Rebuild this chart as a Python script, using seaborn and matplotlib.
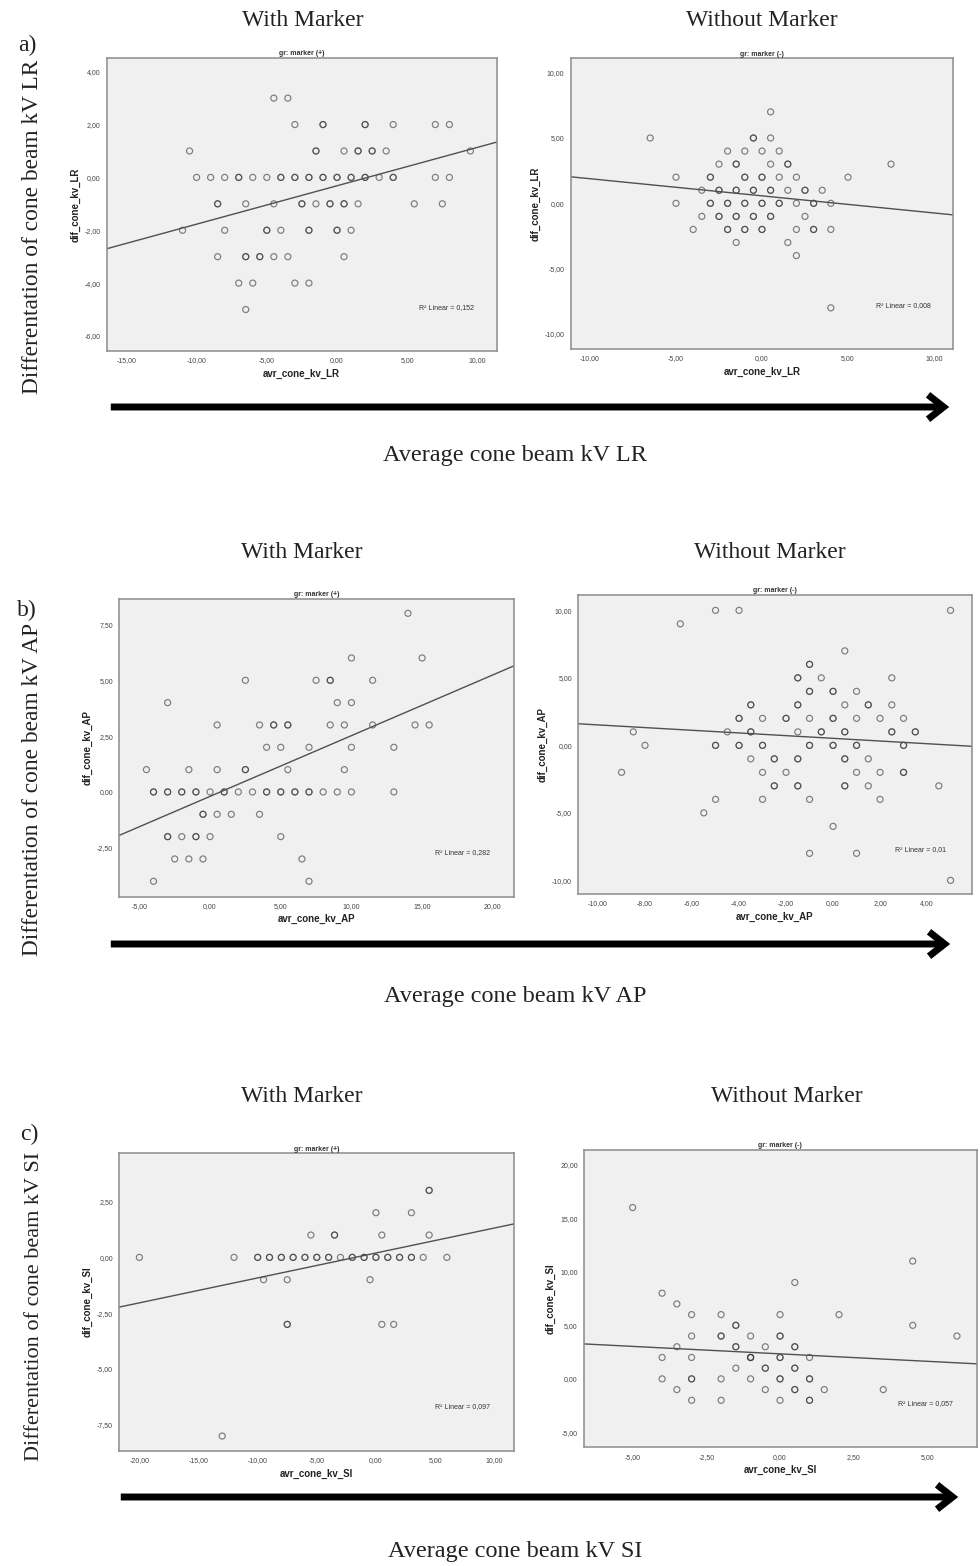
import matplotlib
matplotlib.use("Agg")
import matplotlib.pyplot as plt
from matplotlib.ticker import FuncFormatter, FixedLocator
from matplotlib.patches import FancyArrowPatch
import seaborn as sns
import numpy as np

# ---------------- data ----------------
# a) LR, with marker
AL_x = [-4.5, -3.5,
        -3, -1, -1, 2, 2, 4, 7, 8,
        -10.5, -1.5, -1.5, 0.5, 1.5, 1.5, 2.5, 2.5, 3.5, 9.5,
        -10, -9, -8, -7, -7, -6, -5, -4, -4, -3, -3, -2, -2, -1, -1, 0, 0, 1, 1, 2, 2, 3, 4, 4, 7, 8,
        -8.5, -8.5, -6.5, -4.5, -2.5, -2.5, -1.5, -0.5, -0.5, 0.5, 0.5, 1.5, 5.5, 7.5,
        -11, -8, -5, -5, -4, -2, -2, 0, 0, 1,
        -8.5, -6.5, -6.5, -5.5, -5.5, -4.5, -3.5, 0.5,
        -7, -6, -3, -2,
        -6.5]
AL_y = [3, 3,
        2, 2, 2, 2, 2, 2, 2, 2,
        1, 1, 1, 1, 1, 1, 1, 1, 1, 1,
        0, 0, 0, 0, 0, 0, 0, 0, 0, 0, 0, 0, 0, 0, 0, 0, 0, 0, 0, 0, 0, 0, 0, 0, 0, 0,
        -1, -1, -1, -1, -1, -1, -1, -1, -1, -1, -1, -1, -1, -1,
        -2, -2, -2, -2, -2, -2, -2, -2, -2, -2,
        -3, -3, -3, -3, -3, -3, -3, -3,
        -4, -4, -4, -4,
        -5]

# a) LR, without marker
AR_x = [0.5,
        -6.5, -0.5, -0.5, 0.5,
        -2, -1, 0, 1,
        -2.5, -1.5, -1.5, 0.5, 1.5, 1.5, 7.5,
        -5, -3, -3, -1, -1, 0, 0, 1, 2, 5,
        -3.5, -2.5, -2.5, -1.5, -1.5, -0.5, -0.5, 0.5, 0.5, 1.5, 2.5, 2.5, 3.5,
        -5, -3, -3, -2, -2, -1, -1, 0, 0, 1, 1, 2, 3, 3, 4,
        -3.5, -2.5, -2.5, -1.5, -1.5, -0.5, -0.5, 0.5, 0.5, 2.5,
        -4, -2, -2, -1, -1, 0, 0, 2, 3, 3, 4,
        -1.5, 1.5,
        2,
        4]
AR_y = [7,
        5, 5, 5, 5,
        4, 4, 4, 4,
        3, 3, 3, 3, 3, 3, 3,
        2, 2, 2, 2, 2, 2, 2, 2, 2, 2,
        1, 1, 1, 1, 1, 1, 1, 1, 1, 1, 1, 1, 1,
        0, 0, 0, 0, 0, 0, 0, 0, 0, 0, 0, 0, 0, 0, 0,
        -1, -1, -1, -1, -1, -1, -1, -1, -1, -1,
        -2, -2, -2, -2, -2, -2, -2, -2, -2, -2, -2,
        -3, -3,
        -4,
        -8]

# b) AP, with marker
BL_x = [14,
        10, 15,
        2.5, 7.5, 8.5, 8.5, 11.5,
        -3, 9, 10,
        0.5, 3.5, 4.5, 4.5, 5.5, 5.5, 8.5, 9.5, 11.5, 14.5, 15.5,
        4, 5, 7, 10, 13,
        -4.5, -1.5, 0.5, 2.5, 2.5, 5.5, 9.5,
        -4, -4, -3, -3, -2, -2, -1, -1, 0, 1, 1, 2, 3, 4, 4, 5, 5, 6, 6, 7, 7, 8, 9, 10, 13,
        -0.5, -0.5, 0.5, 1.5, 3.5,
        -3, -3, -2, -1, -1, 0, 5,
        -2.5, -1.5, -0.5, 6.5,
        -4, 7]
BL_y = [8,
        6, 6,
        5, 5, 5, 5, 5,
        4, 4, 4,
        3, 3, 3, 3, 3, 3, 3, 3, 3, 3, 3,
        2, 2, 2, 2, 2,
        1, 1, 1, 1, 1, 1, 1,
        0, 0, 0, 0, 0, 0, 0, 0, 0, 0, 0, 0, 0, 0, 0, 0, 0, 0, 0, 0, 0, 0, 0, 0, 0,
        -1, -1, -1, -1, -1,
        -2, -2, -2, -2, -2, -2, -2,
        -3, -3, -3, -3,
        -4, -4]

# b) AP, without marker
BR_x = [-5, -4, 5,
        -6.5,
        0.5,
        -1, -1,
        -1.5, -1.5, -0.5, 2.5,
        -1, -1, 0, 0, 1,
        -3.5, -3.5, -1.5, -1.5, 0.5, 1.5, 1.5, 2.5,
        -4, -4, -3, -2, -2, -1, 0, 0, 1, 2, 3,
        -8.5, -4.5, -3.5, -3.5, -1.5, -0.5, -0.5, 0.5, 0.5, 2.5, 2.5, 3.5, 3.5,
        -8, -5, -5, -4, -4, -3, -3, -1, -1, 0, 0, 1, 1, 3, 3,
        -3.5, -2.5, -2.5, -1.5, -1.5, 0.5, 0.5, 1.5,
        -9, -3, -2, 1, 2, 3, 3,
        -2.5, -2.5, -1.5, -1.5, 0.5, 0.5, 1.5, 4.5,
        -5, -3, -1, 2,
        -5.5,
        0,
        -1, 1,
        5]
BR_y = [10, 10, 10,
        9,
        7,
        6, 6,
        5, 5, 5, 5,
        4, 4, 4, 4, 4,
        3, 3, 3, 3, 3, 3, 3, 3,
        2, 2, 2, 2, 2, 2, 2, 2, 2, 2, 2,
        1, 1, 1, 1, 1, 1, 1, 1, 1, 1, 1, 1, 1,
        0, 0, 0, 0, 0, 0, 0, 0, 0, 0, 0, 0, 0, 0, 0,
        -1, -1, -1, -1, -1, -1, -1, -1,
        -2, -2, -2, -2, -2, -2, -2,
        -3, -3, -3, -3, -3, -3, -3, -3,
        -4, -4, -4, -4,
        -5,
        -6,
        -8, -8,
        -10]

# c) SI, with marker
CL_x = [4.5, 4.5,
        0, 3,
        -5.5, -3.5, -3.5, 0.5, 4.5,
        -20, -12, -10, -10, -9, -9, -8, -8, -7, -7, -6, -6, -5, -5, -4, -4, -3, -2, -2,
        -1, -1, 0, 0, 1, 1, 2, 2, 3, 3, 4, 6,
        -9.5, -7.5, -0.5,
        -7.5, -7.5, 0.5, 1.5,
        -13]
CL_y = [3, 3,
        2, 2,
        1, 1, 1, 1, 1,
        0, 0, 0, 0, 0, 0, 0, 0, 0, 0, 0, 0, 0, 0, 0, 0, 0, 0, 0,
        0, 0, 0, 0, 0, 0, 0, 0, 0, 0, 0, 0,
        -1, -1, -1,
        -3, -3, -3, -3,
        -8]

# c) SI, without marker
CR_x = [-5,
        4.5,
        0.5,
        -4,
        -3.5,
        -3, -2, 0, 2,
        -1.5, -1.5, 4.5,
        -3, -2, -2, -1, 0, 0, 6,
        -3.5, -1.5, -1.5, -0.5, 0.5, 0.5,
        -4, -3, -1, -1, -1, 0, 0, 1,
        -1.5, -0.5, -0.5, 0.5, 0.5,
        -4, -3, -3, -2, -1, 0, 0, 1, 1,
        -3.5, -0.5, 0.5, 0.5, 1.5, 3.5,
        -3, -2, 0, 1, 1]
CR_y = [16,
        11,
        9,
        8,
        7,
        6, 6, 6, 6,
        5, 5, 5,
        4, 4, 4, 4, 4, 4, 4,
        3, 3, 3, 3, 3, 3,
        2, 2, 2, 2, 2, 2, 2, 2,
        1, 1, 1, 1, 1,
        0, 0, 0, 0, 0, 0, 0, 0, 0,
        -1, -1, -1, -1, -1, -1,
        -2, -2, -2, -2, -2]

R2_labels = ["0,152", "0,008", "0,282", "0,01", "0,097", "0,057"]
axis_names = ["LR", "AP", "SI"]
group_titles = ["gr: marker (+)", "gr: marker (-)"]
col_titles = ["With Marker", "Without Marker"]
row_tags = ["a)", "b)", "c)"]

AL_xticks = [-15, -10, -5, 0, 5, 10];   AL_yticks = [-6, -4, -2, 0, 2, 4]
AR_xticks = [-10, -5, 0, 5, 10];        AR_yticks = [-10, -5, 0, 5, 10]
BL_xticks = [-5, 0, 5, 10, 15, 20];     BL_yticks = [-2.5, 0, 2.5, 5, 7.5]
BR_xticks = [-10, -8, -6, -4, -2, 0, 2, 4]; BR_yticks = [-10, -5, 0, 5, 10]
CL_xticks = [-20, -15, -10, -5, 0, 5, 10]; CL_yticks = [-7.5, -5, -2.5, 0, 2.5]
CR_xticks = [-5, -2.5, 0, 2.5, 5];      CR_yticks = [-5, 0, 5, 10, 15, 20]

# ---------------- figure ----------------
sns.set_style("white")
plt.rcParams["font.family"] = ["Liberation Sans", "DejaVu Sans"]

W, H = 980, 1566
fig = plt.figure(figsize=(W / 100, H / 100), dpi=100)
fig.patch.set_facecolor("white")


def rect(l, t, r, b):
    return [l / W, 1 - b / H, (r - l) / W, (b - t) / H]


def fmt(v, pos=None):
    return f"{v:.2f}".replace(".", ",")


panels = [
    # (x, y, xticks, yticks, xlim, ylim, rect, row, col)
    (AL_x, AL_y, AL_xticks, AL_yticks, (-16.4, 11.37), (-6.57, 4.53), rect(106.7, 57.7, 496.7, 351), 0, 0),
    (AR_x, AR_y, AR_xticks, AR_yticks, (-11.12, 11.12), (-11.15, 11.1), rect(570.7, 58.3, 953.3, 349), 0, 1),
    (BL_x, BL_y, BL_xticks, BL_yticks, (-6.42, 21.5), (-4.69, 8.64), rect(119.3, 599, 514, 896.7), 1, 0),
    (BR_x, BR_y, BR_xticks, BR_yticks, (-10.84, 5.9), (-11.01, 11.16), rect(578.3, 594.7, 971.7, 894), 1, 1),
    (CL_x, CL_y, CL_xticks, CL_yticks, (-21.7, 11.7), (-8.67, 4.66), rect(119.3, 1153.3, 514.3, 1451), 2, 0),
    (CR_x, CR_y, CR_xticks, CR_yticks, (-6.65, 6.67), (-6.39, 21.4), rect(584, 1149.7, 976.7, 1447.3), 2, 1),
]

for i, (xs, ys, xt, yt, xl, yl, rc, row, col) in enumerate(panels):
    ax = fig.add_axes(rc)
    ax.set_facecolor("#f0f0f0")
    ax.set_xlim(*xl)
    ax.set_ylim(*yl)
    sns.regplot(x=np.array(xs, float), y=np.array(ys, float), ax=ax, ci=None,
                truncate=False, marker="o",
                scatter_kws=dict(s=19, facecolors="none", edgecolors="#2e2e2e",
                                 linewidths=0.85, alpha=0.6),
                line_kws=dict(color="#505050", lw=1.0))
    ax.set_xlim(*xl)
    ax.set_ylim(*yl)
    ax.xaxis.set_major_locator(FixedLocator(xt))
    ax.yaxis.set_major_locator(FixedLocator(yt))
    ax.xaxis.set_major_formatter(FuncFormatter(fmt))
    ax.yaxis.set_major_formatter(FuncFormatter(fmt))
    ax.tick_params(axis="both", direction="out", length=3, width=0.8, color="#555555",
                   labelsize=5, labelcolor="#444444", pad=1.5)
    for s in ax.spines.values():
        s.set_color("#8c8c8c")
        s.set_linewidth(1.1)
    ax.set_xlabel(f"avr_cone_kv_{axis_names[row]}", fontsize=7, fontweight="bold",
                  color="#222222", labelpad=3)
    ax.set_ylabel(f"dif_cone_kv_{axis_names[row]}", fontsize=7, fontweight="bold",
                  color="#222222", labelpad=3)
    ax.set_title(group_titles[col], fontsize=5, fontweight="bold", color="#333333", pad=2)
    ax.text(0.87, 0.148, f"R\u00b2 Linear = {R2_labels[i]}", transform=ax.transAxes,
            ha="center", va="center", fontsize=5, color="#333333")

serif = ["Liberation Serif", "DejaVu Serif"]

# column titles
title_pos = [((303, 20), (762, 20)), ((302, 553), (770, 553)), ((302, 1096), (787, 1096))]
for row in range(3):
    for col in range(2):
        x, y = title_pos[row][col]
        fig.text(x / W, 1 - y / H, col_titles[col], ha="center", va="center",
                 family=serif, fontsize=17, color="#222222")

# row tags
for (x, y), tag in zip([(27, 45), (27, 610), (29, 1134)], row_tags):
    fig.text(x / W, 1 - y / H, tag, ha="center", va="center", family=serif,
             fontsize=17, color="#222222")

# row y-labels
for (x, y), nm, fs in zip([(33, 227), (33, 789), (35, 1306)], axis_names, [16.8, 16.8, 16]):
    fig.text(x / W, 1 - y / H, f"Differentation of cone beam kV {nm}", ha="center",
             va="center", rotation=90, family=serif, fontsize=fs, color="#222222")

# arrows and bottom labels
for (x0, x1, y), (lx, ly), nm in zip(
        [(108, 952, 407), (108, 953, 944), (118, 961, 1497)],
        [(515, 456), (515, 996), (515, 1552)], axis_names):
    arr = FancyArrowPatch((x0 / W, 1 - y / H), (x1 / W, 1 - y / H),
                          transform=fig.transFigure,
                          arrowstyle="->,head_length=0.7,head_width=0.55",
                          mutation_scale=16, lw=5, color="black",
                          capstyle="butt", joinstyle="miter")
    fig.add_artist(arr)
    fig.text(lx / W, 1 - ly / H, f"Average cone beam kV {nm}", ha="center", va="center",
             family=serif, fontsize=17.5, color="#222222")

fig.savefig("out.png", dpi=100, facecolor="white")
